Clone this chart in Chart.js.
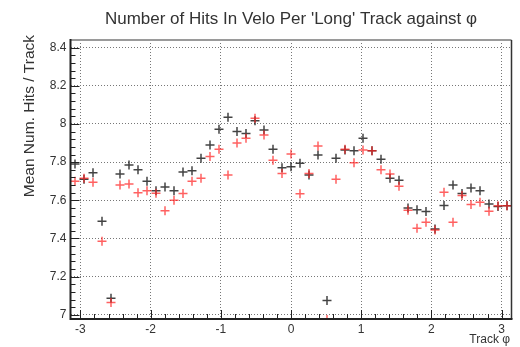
<!DOCTYPE html>
<html>
<head>
<meta charset="utf-8">
<script src="https://cdn.jsdelivr.net/npm/chart.js@4.4.0/dist/chart.umd.min.js"></script>
<style>
  html, body { margin: 0; padding: 0; background: #ffffff; }
  #wrap { width: 520px; height: 347px; position: relative; }
</style>
</head>
<body>
<div id="wrap"><canvas id="phiChart" width="520" height="347"></canvas></div>
<script>
// 49 bins in phi from -pi to pi
const NBINS = 49;

// mean number of velo hits per long track, black histogram
const blackMeans = [
  7.79, 7.71, 7.745, 7.49, 7.087, 7.738, 7.785, 7.76, 7.70, 7.65,
  7.67, 7.65, 7.748, 7.755, 7.82, 7.89, 7.972, 8.035, 7.96, 7.95,
  8.017, 7.969, 7.868, 7.77, 7.776, 7.794, 7.733, 7.838, 7.075, 7.82,
  7.864, 7.86, 7.925, 7.86, 7.815, 7.716, 7.705, 7.56, 7.55, 7.541,
  7.45, 7.573, 7.68, 7.635, 7.665, 7.65, 7.58, 7.567, 7.572
];

// red histogram
const redMeans = [
  7.70, 7.715, 7.695, 7.385, 7.065, 7.68, 7.686, 7.64, 7.65, 7.637,
  7.545, 7.60, 7.635, 7.70, 7.716, 7.829, 7.868, 7.733, 7.90, 7.925,
  8.03, 7.942, 7.81, 7.74, 7.843, 7.634, 7.74, 7.885, 6.975, 7.71,
  7.868, 7.797, 7.864, 7.86, 7.76, 7.738, 7.673, 7.548, 7.454, 7.485,
  7.445, 7.642, 7.485, 7.625, 7.578, 7.59, 7.543, 7.572, 7.572
];

const xTickValues = [-3, -2, -1, 0, 1, 2, 3];
const yTickValues = [7, 7.2, 7.4, 7.6, 7.8, 8, 8.2, 8.4];

const chartTitle = "Number of Hits In Velo Per 'Long' Track against \u03c6";
const yTitle = 'Mean Num. Hits / Track';
const xTitle = 'Track \u03c6';

function binCentre(i) {
  return -Math.PI + (i + 0.5) * 2 * Math.PI / NBINS;
}
const toPoints = arr => arr.map((v, i) => ({ x: binCentre(i), y: v }));

// frame, inside tick marks and titles (ROOT look)
const framePlugin = {
  id: 'rootFrame',
  afterDraw(chart) {
    const { ctx, chartArea: a, scales: { x, y } } = chart;
    ctx.save();

    ctx.strokeStyle = '#222';
    ctx.lineWidth = 1;
    ctx.beginPath();
    for (let k = 0; k <= 36; k++) {
      const py = Math.round(y.getPixelForValue(7 + k * 0.04)) + 0.5;
      if (py < a.top) continue;
      const len = k % 5 === 0 ? 9 : 5;
      ctx.moveTo(a.left, py);
      ctx.lineTo(a.left + len, py);
    }
    for (let k = -15; k <= 15; k++) {
      const px = Math.round(x.getPixelForValue(k * 0.2)) + 0.5;
      const len = k % 5 === 0 ? 9 : 5;
      ctx.moveTo(px, a.bottom);
      ctx.lineTo(px, a.bottom - len);
    }
    ctx.stroke();

    // frame lines
    ctx.lineWidth = 2;
    ctx.strokeStyle = '#9a9a9a';
    ctx.beginPath();
    ctx.moveTo(a.left, a.top); ctx.lineTo(a.right, a.top);
    ctx.stroke();
    ctx.strokeStyle = '#333';
    ctx.lineWidth = 1.5;
    ctx.beginPath();
    ctx.moveTo(a.right, a.top); ctx.lineTo(a.right, a.bottom);
    ctx.stroke();
    ctx.strokeStyle = '#222';
    ctx.lineWidth = 2;
    ctx.beginPath();
    ctx.moveTo(a.left, a.top - 1); ctx.lineTo(a.left, a.bottom);
    ctx.lineTo(a.right + 1, a.bottom);
    ctx.stroke();

    // titles
    ctx.fillStyle = '#333';
    ctx.font = '17px "Liberation Sans", Arial, sans-serif';
    ctx.textAlign = 'center';
    ctx.textBaseline = 'middle';
    ctx.fillText(chartTitle, 291, 19);

    ctx.font = '12px "Liberation Sans", Arial, sans-serif';
    ctx.textAlign = 'right';
    ctx.fillText(xTitle, 510, 340);

    ctx.save();
    ctx.translate(30, 35);
    ctx.rotate(-Math.PI / 2);
    ctx.font = '15.5px "Liberation Sans", Arial, sans-serif';
    ctx.textAlign = 'right';
    ctx.textBaseline = 'middle';
    ctx.fillText(yTitle, 0, 0);
    ctx.restore();

    ctx.restore();
  }
};

const ctx = document.getElementById('phiChart');

new Chart(ctx, {
  type: 'scatter',
  data: {
    datasets: [
      {
        label: 'red',
        data: toPoints(redMeans),
        pointStyle: 'cross',
        pointRadius: 4.5,
        pointHoverRadius: 4.5,
        borderWidth: 1.5,
        borderColor: 'rgba(255,30,30,0.7)',
        backgroundColor: 'rgba(255,30,30,0.7)',
        clip: 0
      },
      {
        label: 'black',
        data: toPoints(blackMeans),
        pointStyle: 'cross',
        pointRadius: 4.5,
        pointHoverRadius: 4.5,
        borderWidth: 1.5,
        borderColor: 'rgba(20,20,20,0.8)',
        backgroundColor: 'rgba(20,20,20,0.8)',
        clip: 0
      }
    ]
  },
  options: {
    responsive: false,
    animation: false,
    events: [],
    layout: { padding: { left: 0, top: 40, right: 8.5, bottom: 0 } },
    plugins: {
      legend: { display: false },
      tooltip: { enabled: false },
      title: { display: false }
    },
    scales: {
      x: {
        type: 'linear',
        min: -Math.PI,
        max: Math.PI,
        afterBuildTicks: axis => { axis.ticks = xTickValues.map(v => ({ value: v })); },
        afterFit: axis => { axis.height = 28; },
        ticks: {
          padding: 3,
          color: '#333',
          font: { family: '"Liberation Sans", Arial, sans-serif', size: 12 },
          callback: v => String(v),
          maxRotation: 0
        },
        grid: { color: '#777', lineWidth: 1, drawTicks: false },
        border: { display: false, dash: [1, 2] }
      },
      y: {
        type: 'linear',
        min: 6.978,
        max: 8.44,
        afterBuildTicks: axis => { axis.ticks = yTickValues.map(v => ({ value: v })); },
        afterFit: axis => { axis.width = 70.5; },
        ticks: {
          padding: 4,
          color: '#333',
          font: { family: '"Liberation Sans", Arial, sans-serif', size: 12 },
          callback: v => String(+v.toFixed(2))
        },
        grid: { color: '#777', lineWidth: 1, drawTicks: false },
        border: { display: false, dash: [1, 2] }
      }
    }
  },
  plugins: [framePlugin]
});
</script>
</body>
</html>
